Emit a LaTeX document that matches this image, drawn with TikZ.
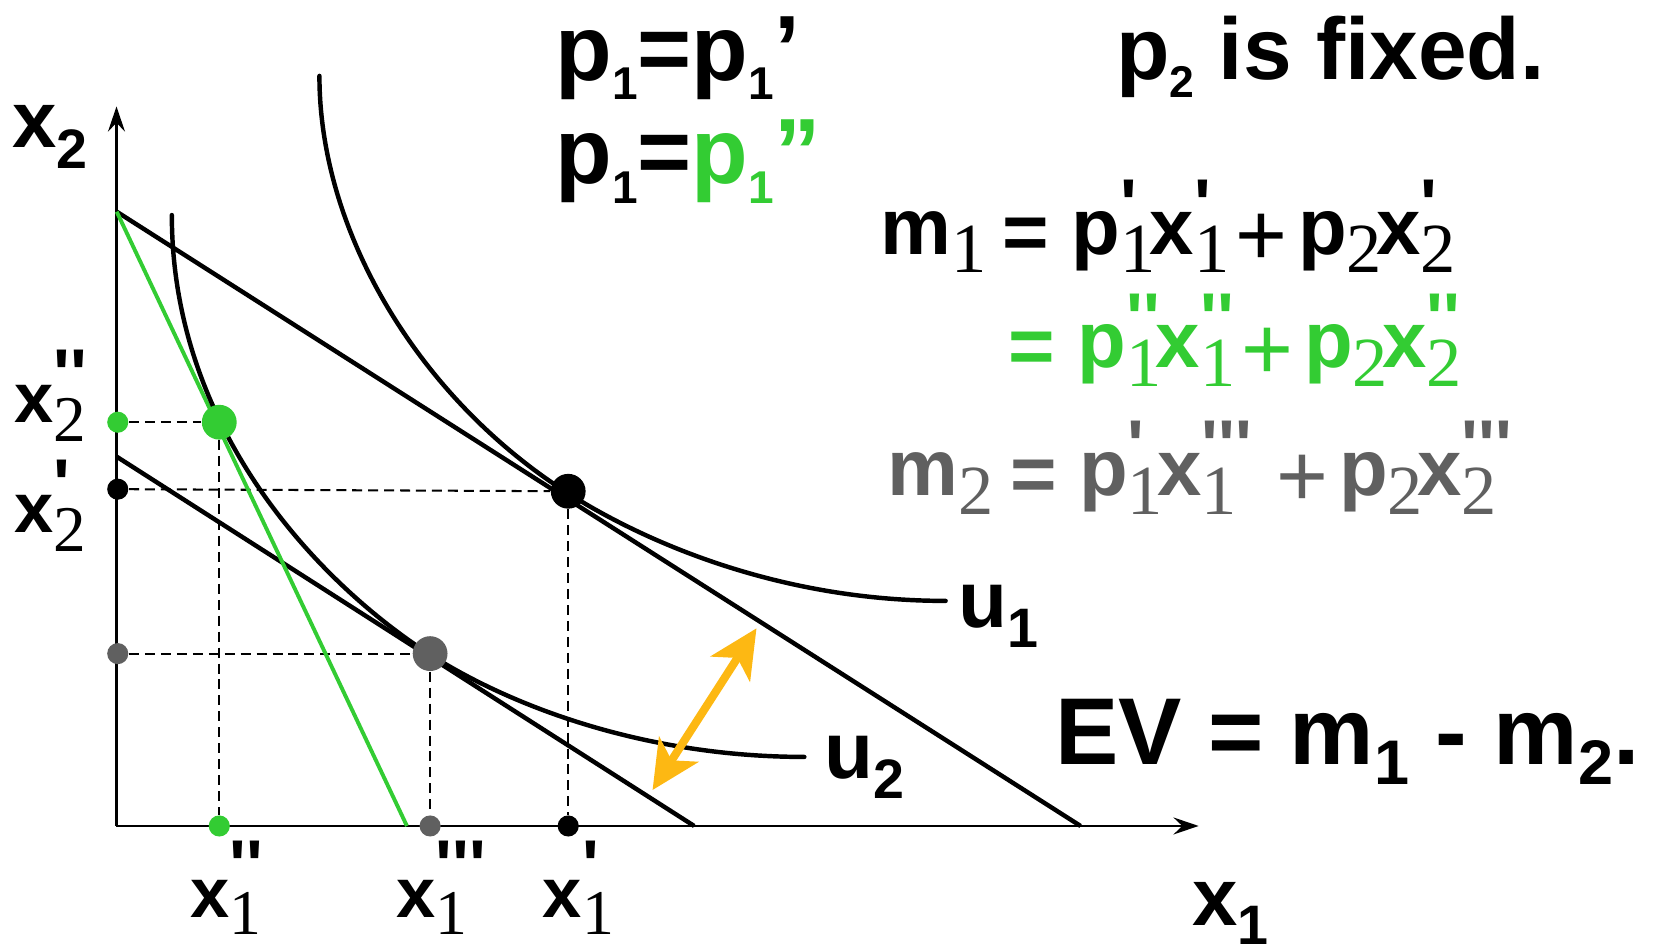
\documentclass[tikz,border=0pt]{standalone}
\usepackage{fontspec}
\usetikzlibrary{arrows.meta}
\newfontfamily\A{Liberation Sans}[Ligatures=TeXOff]
\newfontfamily\T{Liberation Serif}
\definecolor{gr}{HTML}{33CC33}
\definecolor{gy}{HTML}{606060}
\definecolor{yl}{HTML}{FDB813}
\newcommand\q{\char"0027\relax}
\def\subsz{19pt}\def\subdrop{5pt}\def\prsz{19pt}\def\prraise{6.9pt}
\newcommand\sbp[2]{%
 \setbox0=\hbox{\raisebox{-\subdrop}{\T\mdseries\fontsize{\subsz}{\subsz}\selectfont #1}}%
 \setbox2=\hbox{\raisebox{\prraise}{\A\bfseries\fontsize{\prsz}{\prsz}\selectfont #2}}%
 \ifdim\wd0<\wd2 \wd0=\wd2\relax\fi
 \rlap{\box2}\box0\kern-1.5pt\relax}
\newcommand\asb[1]{\raisebox{-\subdrop}{\fontsize{\subsz}{\subsz}\selectfont #1}}
\newcommand\fs[1]{\A\bfseries\fontsize{#1}{#1}\selectfont}
\newcommand\pl{\hspace{0.14em}\raisebox{-3pt}{\A\mdseries\fontsize{24pt}{24pt}\selectfont +}\hspace{0.14em}}
\newcommand\eqs{\raisebox{-1.5pt}{=}}
\begin{document}
\begin{tikzpicture}[x=0.01cm,y=-0.01cm,
 axis/.style={line width=0.55pt, -{Stealth[length=6.8pt,width=4.6pt,inset=2.4pt]}},
 curve/.style={line width=1.2pt, line cap=round},
 budget/.style={line width=1.2pt},
 dashln/.style={line width=0.55pt, dash pattern=on 2.7pt off 1.6pt},
 bigdot/.style={circle, inner sep=0pt, minimum size=0.33cm},
 smalldot/.style={circle, inner sep=0pt, minimum size=0.2cm},
 lbl/.style={anchor=base west, inner sep=0pt, outer sep=0pt}]
\useasboundingbox (0,0) rectangle (1568,903);

% key points
\coordinate (O) at (110.5,783.5);
\coordinate (Ytop) at (110.5,101);
\coordinate (Xend) at (1137,783.5);
\coordinate (A) at (110.7,200.8);
\coordinate (B1) at (1025,783.5);
\coordinate (Bg) at (386,783.5);
\coordinate (C) at (110.7,433.2);
\coordinate (B2) at (658.5,783.5);

\coordinate (Gc) at (208,400.5);
\coordinate (Pc) at (539,466);
\coordinate (Qc) at (408,620);

% dots as nodes (positions)
\node[bigdot] (G) at (Gc) {};
\node[bigdot] (P) at (Pc) {};
\node[bigdot] (Q) at (Qc) {};
\node[smalldot] (gy) at (111.7,400.5) {};
\node[smalldot] (gx) at (208,783.5) {};
\node[smalldot] (py) at (111.7,464) {};
\node[smalldot] (px) at (539,783.5) {};
\node[smalldot] (qy) at (111.7,620) {};
\node[smalldot] (qx) at (408,783.5) {};

\draw[dashln] (gy) -- (G);
\draw[dashln] (G) -- (gx);
\draw[dashln] (py) -- (P);
\draw[dashln] (P) -- (px);
\draw[dashln] (qy) -- (Q);
\draw[dashln] (Q) -- (qx);

% axes
\draw[axis] (O) -- (Ytop);
\draw[axis] (O) -- (Xend);

% budget lines
\draw[budget] (A) -- (B1);
\draw[budget] (C) -- (B2);
\draw[budget, gr, line width=1.05pt] (A) -- (Bg);

% indifference curves
\coordinate (U1s) at (303,72);
\coordinate (U1e) at (897,570);
\coordinate (U2s) at (163,204);
\coordinate (U2e) at (763,718);
\draw[curve] (U1s) .. controls (303,222) and (399,379) .. (539,468)
  .. controls (609,512.5) and (737,570) .. (U1e);
\draw[curve] (U2s) .. controls (163,404) and (298,550) .. (408,621)
  .. controls (488,672) and (615,718) .. (U2e);

% dots (fill on top)
\node[bigdot, fill=gr] at (G) {};
\node[bigdot, fill=black] at (P) {};
\node[bigdot, fill=gy] at (Q) {};
\node[smalldot, fill=gr] at (gy) {};
\node[smalldot, fill=gr] at (gx) {};
\node[smalldot, fill=black] at (py) {};
\node[smalldot, fill=black] at (px) {};
\node[smalldot, fill=gy] at (qy) {};
\node[smalldot, fill=gy] at (qx) {};

% EV arrow
\coordinate (EVa) at (717.6,596);
\coordinate (EVb) at (619,749.4);
\draw[yl, line width=2.2pt, {Stealth[length=13pt,width=12.5pt,inset=3.5pt]}-{Stealth[length=13pt,width=12.5pt,inset=3.5pt]}] (EVb) -- (EVa);

% labels
\node[lbl] (x2ax) at (12,139.5) {\def\subsz{15pt}\def\subdrop{5.7pt}\fs{21.5pt}x\asb{2}};
\node[lbl] (x1ax) at (1131,878) {\def\subsz{15pt}\def\subdrop{5pt}\fs{22pt}x\asb{1}};
\node[lbl] (x2pp) at (14,401) {\def\subsz{17.6pt}\def\subdrop{5.1pt}\def\prraise{6.5pt}\fs{19pt}x\sbp{2}{\q\q}};
\node[lbl] (x2p) at (14,505) {\def\subsz{17.6pt}\def\subdrop{5.1pt}\def\prraise{6.5pt}\fs{19pt}x\sbp{2}{\q}};
\node[lbl] (x1pp) at (181,870) {\def\subsz{17.2pt}\def\subdrop{4.6pt}\def\prraise{7.4pt}\fs{19pt}x\sbp{1}{\q\q}};
\node[lbl] (x1ppp) at (376,870) {\def\subsz{17.2pt}\def\subdrop{4.6pt}\def\prraise{7.4pt}\fs{19pt}x\sbp{1}{\q\q\q}};
\node[lbl] (x1p) at (515,870) {\def\subsz{17.2pt}\def\subdrop{4.6pt}\def\prraise{7.4pt}\fs{19pt}x\sbp{1}{\q}};
\node[lbl] (u1) at (909,595) {\def\subsz{15pt}\def\subdrop{5.4pt}\fs{21.6pt}u\asb{1}};
\node[lbl] (u2) at (782,738) {\def\subsz{15pt}\def\subdrop{5.4pt}\fs{21.6pt}u\asb{2}};
\node[lbl] (ev) at (1001,725) {\def\subsz{17pt}\def\subdrop{5.5pt}\fs{25.6pt}EV = m\asb{1} - m\asb{2}.};
\node[lbl] (pa) at (527,76) {\def\subsz{12.4pt}\def\subdrop{5.3pt}\fs{25pt}p\asb{1}=p\asb{1}’};
\node[lbl] (pb) at (527,174) {\def\subsz{12.4pt}\def\subdrop{5.3pt}\fs{25pt}p\asb{1}={\color{gr}p\asb{1}”}};
\node[lbl] (fix) at (1059,75) {\def\subsz{12pt}\def\subdrop{5pt}\fs{23.6pt}p\asb{2} is fixed.};
\node[lbl] (eq1) at (835,241) {\fs{21.5pt}m\sbp{1}{} \eqs{} p\sbp{1}{\q}x\sbp{1}{\q}\pl p\sbp{2}{}x\sbp{2}{\q}};
\node[lbl, text=gr] (eq2) at (957,349) {\fs{21.5pt}\eqs{} p\sbp{1}{\q\q}x\sbp{1}{\q\q}\pl p\sbp{2}{}x\sbp{2}{\q\q}};
\node[lbl, text=gy] (eq3) at (842,470) {\fs{21.5pt}m\sbp{2}{} \eqs{} p\sbp{1}{\q}x\sbp{1}{\q\q\q}\hspace{5pt}\pl p\sbp{2}{}x\sbp{2}{\q\q\q}};
\end{tikzpicture}
\end{document}
